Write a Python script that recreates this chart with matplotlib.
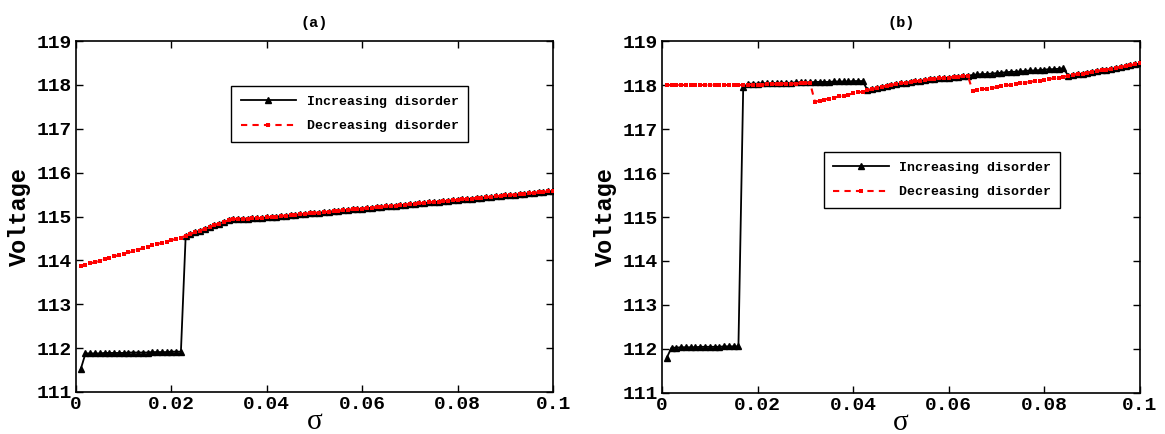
import numpy as np
import matplotlib
matplotlib.use("Agg")
import matplotlib.pyplot as plt

# disorder strength sigma = 0.001 ... 0.100
sigma = np.round(np.arange(1, 101) * 0.001, 3)

# ---------- panel (a) ----------
tail_a = [114.56, 114.60, 114.64, 114.68, 114.72, 114.76, 114.80, 114.84, 114.88, 114.91, 114.94,
          114.95, 114.95, 114.95, 114.96, 114.96,
          114.97, 114.98, 114.99, 115.00, 115.01, 115.02, 115.03, 115.04, 115.05, 115.06,
          115.07, 115.08, 115.09, 115.10, 115.11, 115.12, 115.13, 115.14, 115.15, 115.16,
          115.17, 115.18, 115.19, 115.20, 115.21, 115.22, 115.23, 115.24, 115.25, 115.26,
          115.27, 115.28, 115.29, 115.30, 115.31, 115.32, 115.33, 115.34, 115.35, 115.36,
          115.37, 115.38, 115.39, 115.40, 115.41, 115.42, 115.43, 115.44, 115.45, 115.46,
          115.47, 115.48, 115.49, 115.50, 115.51, 115.52, 115.53, 115.54, 115.55, 115.56,
          115.57, 115.58]

inc_a = [111.52,
         111.88, 111.88, 111.88, 111.88, 111.89, 111.89, 111.89, 111.89, 111.89, 111.90,
         111.90, 111.90, 111.90, 111.90, 111.91, 111.91, 111.91, 111.91, 111.92, 111.92,
         111.92] + tail_a

dec_a = [113.87, 113.90, 113.93, 113.96, 113.99, 114.02, 114.05, 114.09, 114.12, 114.15,
         114.18, 114.21, 114.24, 114.28, 114.31, 114.34, 114.37, 114.40, 114.43, 114.46,
         114.49, 114.52] + tail_a

# ---------- panel (b) ----------
mid_b = [117.88, 117.91, 117.93, 117.96, 117.98, 118.00, 118.02, 118.04, 118.05, 118.07,
         118.08, 118.10, 118.11, 118.13, 118.14, 118.15, 118.16, 118.17, 118.18, 118.19,
         118.20, 118.21]
end_b = [118.21, 118.23, 118.25, 118.26, 118.28, 118.30, 118.32, 118.33, 118.35, 118.37,
         118.39, 118.41, 118.43, 118.45, 118.47, 118.49]

inc_b = ([111.80,
          112.03, 112.03, 112.04, 112.04, 112.04, 112.04, 112.05, 112.05, 112.05, 112.05,
          112.05, 112.06, 112.06, 112.06, 112.06,
          117.95,
          118.03, 118.03, 118.03, 118.04, 118.04, 118.04, 118.05, 118.05, 118.05, 118.05,
          118.06, 118.06, 118.06, 118.06, 118.07, 118.07, 118.07, 118.07, 118.08, 118.08,
          118.08, 118.08, 118.09, 118.09, 118.09]
         + mid_b
         + [118.23, 118.24, 118.25, 118.25, 118.26, 118.27, 118.28, 118.29, 118.30, 118.30,
            118.31, 118.32, 118.33, 118.33, 118.34, 118.35, 118.36, 118.36, 118.37, 118.38]
         + end_b)

dec_b = ([118.00] * 17
         + [118.00, 118.01, 118.01, 118.01, 118.02, 118.02, 118.02, 118.03, 118.03, 118.03,
            118.03, 118.04, 118.04, 118.04]
         + [117.62, 117.64, 117.67, 117.69, 117.71, 117.74, 117.76, 117.78, 117.81, 117.83,
            117.85]
         + mid_b
         + [117.86, 117.88, 117.90, 117.92, 117.93, 117.95, 117.97, 117.99, 118.00, 118.02,
            118.04, 118.05, 118.07, 118.09, 118.10, 118.12, 118.14, 118.15, 118.17, 118.19]
         + end_b)

xticks = [0, 0.02, 0.04, 0.06, 0.08, 0.1]
xticklabels = ["0", "0.02", "0.04", "0.06", "0.08", "0.1"]
yticks = [111, 112, 113, 114, 115, 116, 117, 118, 119]
labels = ["Increasing disorder", "Decreasing disorder"]
titles = ["(a)", "(b)"]

mono = "Liberation Mono"

fig = plt.figure(figsize=(11.65, 4.34), dpi=100)
ax_a = fig.add_axes([0.0652, 0.0968, 0.4095, 0.8087])
ax_b = fig.add_axes([0.5682, 0.0945, 0.4103, 0.8110])

panels = [
    (ax_a, inc_a, dec_a, titles[0], (0.312, 0.890)),
    (ax_b, inc_b, dec_b, titles[1], (0.325, 0.703)),
]

for ax, inc, dec, title, leg_pos in panels:
    ax.plot(sigma, inc, color="black", lw=1.3, marker="^", markersize=4,
            label=labels[0], zorder=3)
    ax.plot(sigma, dec, color="red", lw=1.5, ls="--", dashes=(3, 2.5), marker="s",
            markersize=3.2, markeredgewidth=0, label=labels[1], zorder=4)
    ax.set_xlim(0, 0.1)
    ax.set_ylim(111, 119)
    ax.set_xticks(xticks)
    ax.set_xticklabels(xticklabels, fontfamily=mono, fontweight="bold", fontsize=14)
    ax.set_yticks(yticks)
    ax.set_yticklabels([str(v) for v in yticks], fontfamily=mono, fontweight="bold",
                       fontsize=14)
    ax.tick_params(direction="in", length=5, width=1, top=True, right=True, pad=3)
    for sp in ax.spines.values():
        sp.set_linewidth(1.2)
    ax.set_xlabel("σ", fontfamily="Liberation Serif", fontsize=21, labelpad=-3)
    ax.set_ylabel("Voltage", fontfamily=mono, fontweight="bold", fontsize=17, labelpad=4)
    ax.set_title(title, fontfamily=mono, fontweight="bold", fontsize=11, pad=10)
    leg = ax.legend(loc="upper left", bbox_to_anchor=leg_pos, frameon=True,
                    fancybox=False, edgecolor="black", framealpha=1, numpoints=1,
                    handlelength=4.2, borderpad=0.7, labelspacing=0.95,
                    prop={"family": mono, "weight": "bold", "size": 9.5})
    leg.get_frame().set_linewidth(1.0)

fig.savefig("out.png", dpi=100)
